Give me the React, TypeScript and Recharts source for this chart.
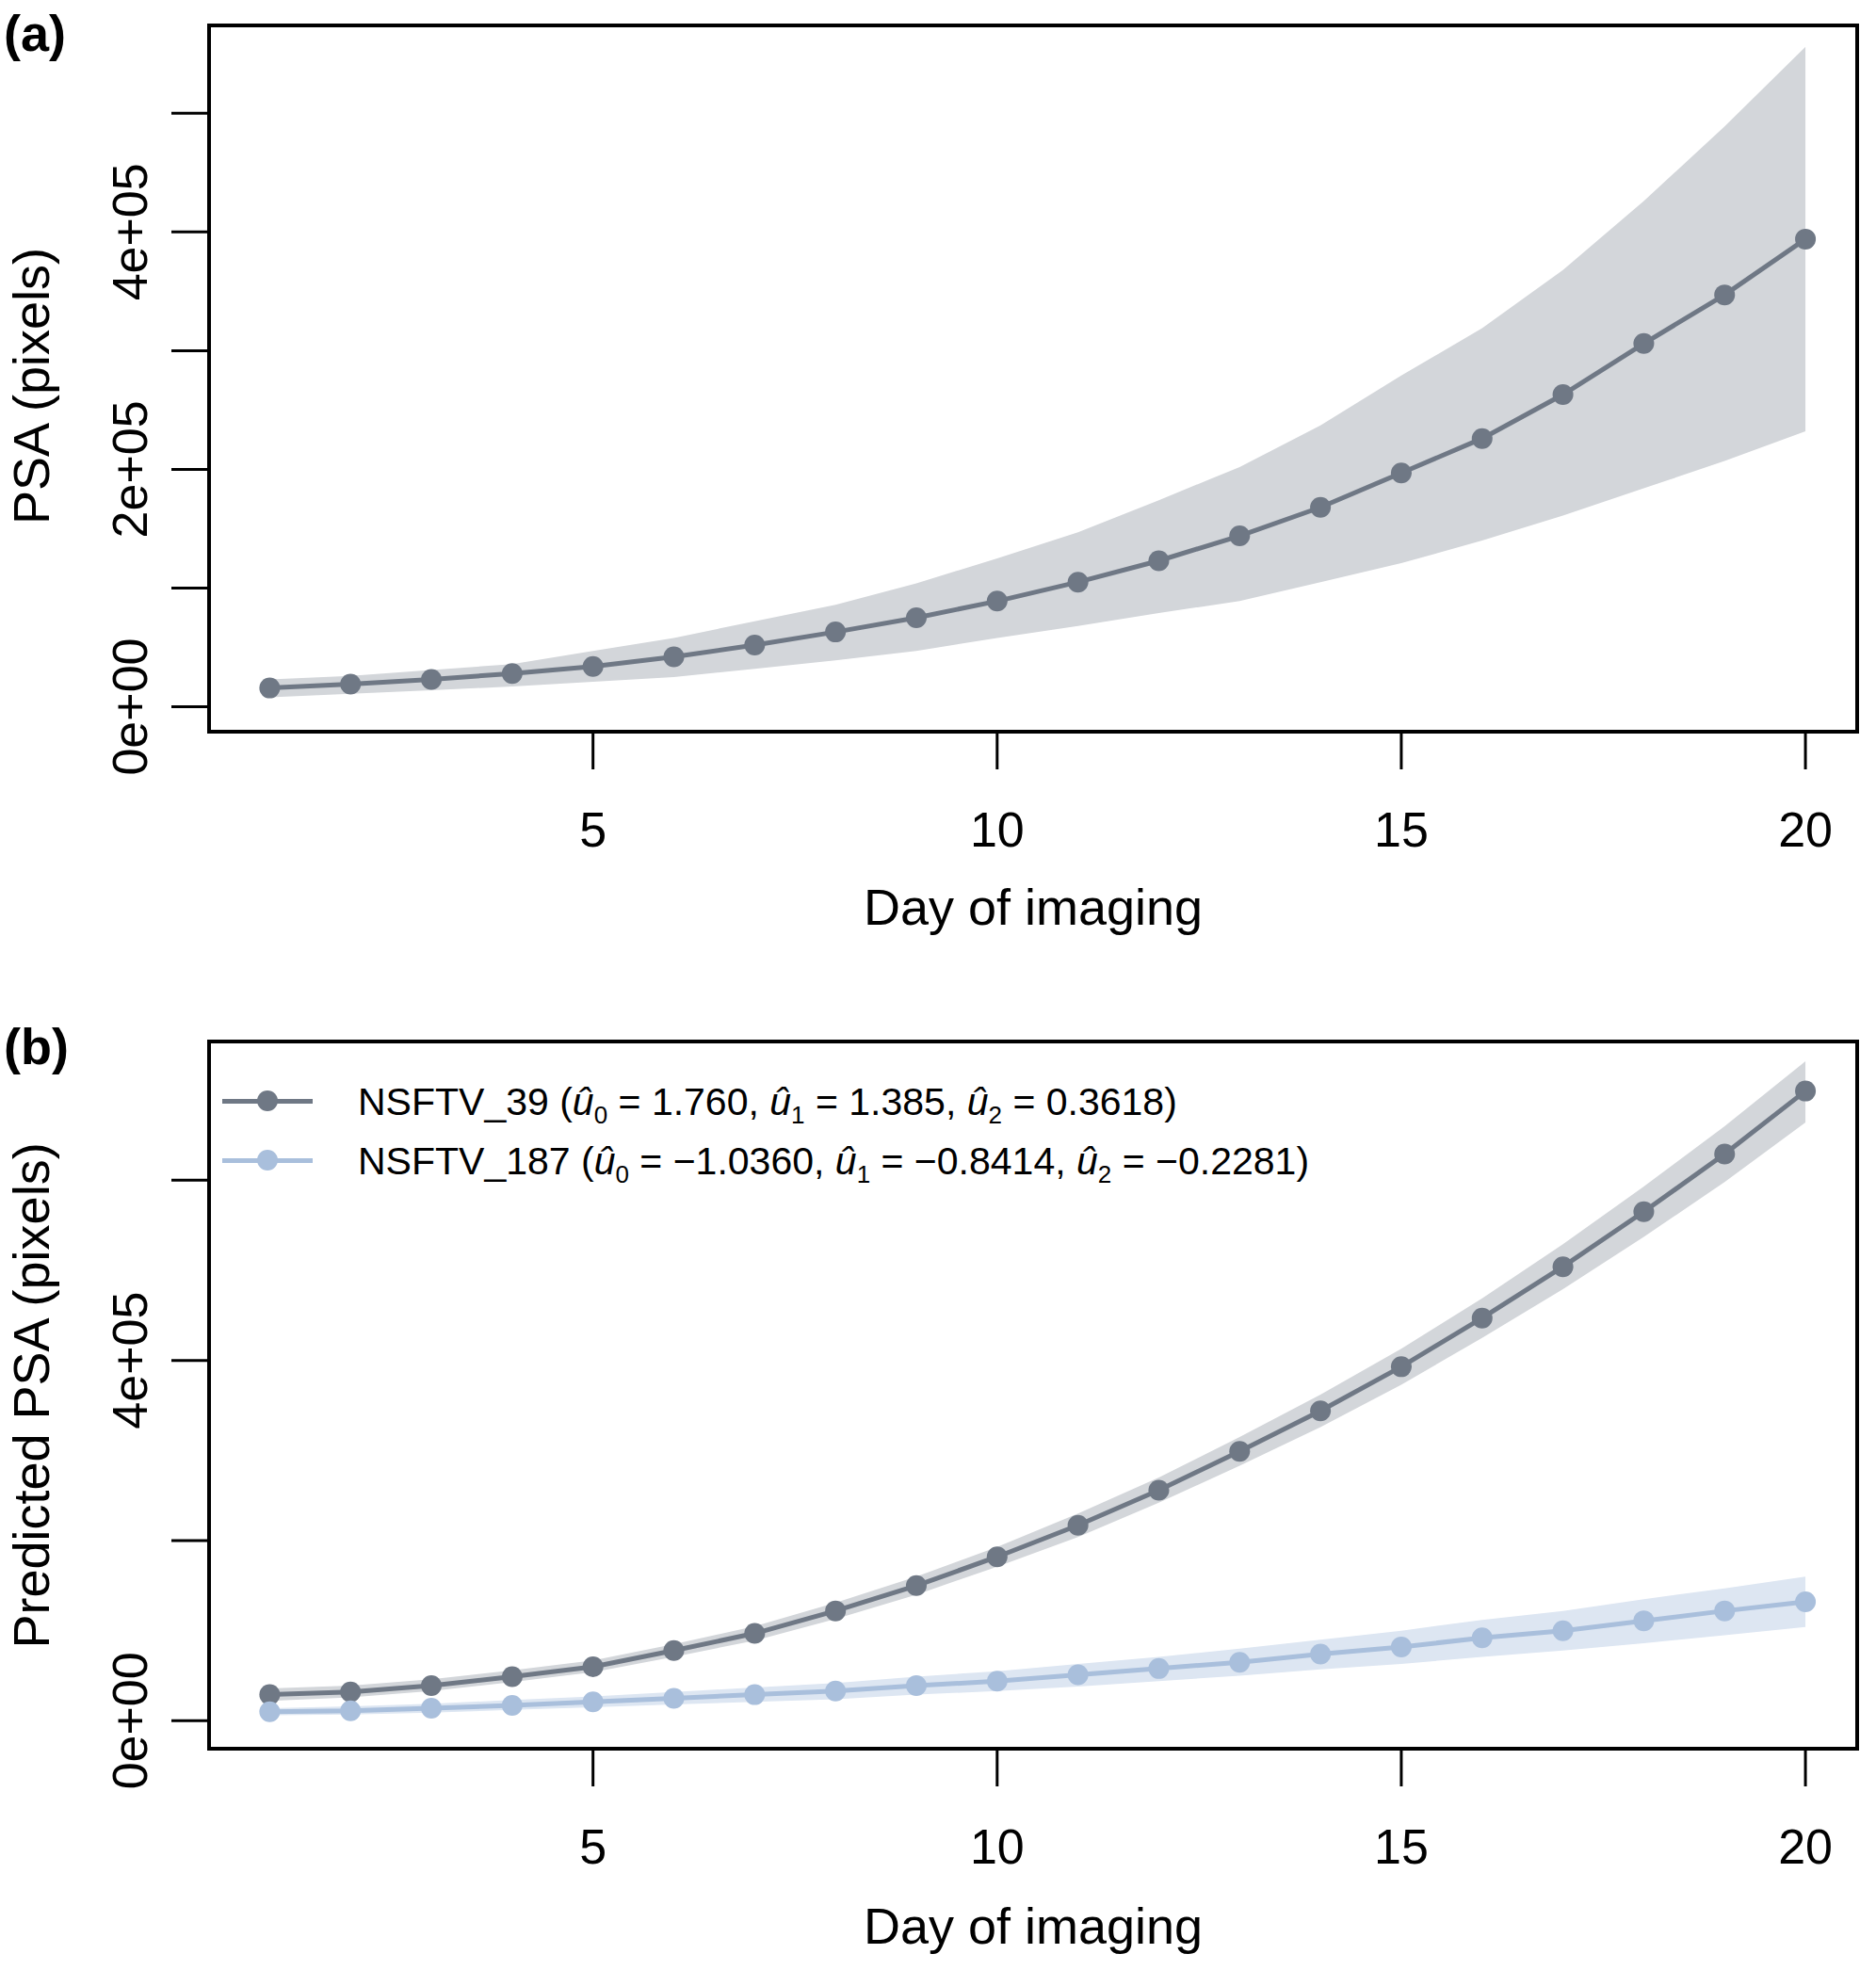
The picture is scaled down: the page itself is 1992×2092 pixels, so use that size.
import React from 'react';
import { ComposedChart, Line, Area, XAxis, YAxis, ReferenceArea } from 'recharts';

// values in units of 1e5 pixels
const DAYS = [1, 2, 3, 4, 5, 6, 7, 8, 9, 10, 11, 12, 13, 14, 15, 16, 17, 18, 19, 20];
const A_MEAN = [0.158, 0.19, 0.23, 0.28, 0.34, 0.42, 0.52, 0.63, 0.75, 0.89, 1.05, 1.23, 1.44, 1.68, 1.97, 2.26, 2.63, 3.06, 3.47, 3.94];
const A_HI = [0.23, 0.26, 0.31, 0.36, 0.47, 0.58, 0.72, 0.86, 1.04, 1.25, 1.47, 1.74, 2.02, 2.37, 2.79, 3.19, 3.68, 4.26, 4.89, 5.56];
const A_LO = [0.08, 0.11, 0.14, 0.17, 0.21, 0.25, 0.32, 0.39, 0.47, 0.58, 0.68, 0.79, 0.89, 1.05, 1.21, 1.4, 1.61, 1.84, 2.07, 2.32];

const N39_MEAN = [0.29, 0.32, 0.39, 0.49, 0.6, 0.78, 0.97, 1.22, 1.5, 1.82, 2.17, 2.56, 2.99, 3.44, 3.93, 4.47, 5.04, 5.65, 6.29, 6.99];
const N39_LO = [0.22, 0.26, 0.33, 0.43, 0.54, 0.71, 0.89, 1.13, 1.4, 1.71, 2.04, 2.42, 2.83, 3.26, 3.73, 4.25, 4.79, 5.37, 5.98, 6.64];
const N39_HI = [0.36, 0.39, 0.46, 0.56, 0.67, 0.85, 1.05, 1.31, 1.6, 1.93, 2.3, 2.7, 3.15, 3.62, 4.13, 4.69, 5.29, 5.93, 6.6, 7.32];
const N187_MEAN = [0.1, 0.11, 0.14, 0.17, 0.21, 0.25, 0.29, 0.33, 0.39, 0.44, 0.51, 0.58, 0.65, 0.74, 0.82, 0.92, 1.0, 1.11, 1.22, 1.32];
const N187_LO = [0.06, 0.07, 0.09, 0.12, 0.15, 0.18, 0.21, 0.24, 0.29, 0.33, 0.38, 0.44, 0.5, 0.57, 0.63, 0.71, 0.78, 0.86, 0.95, 1.04];
const N187_HI = [0.14, 0.16, 0.19, 0.23, 0.27, 0.32, 0.37, 0.42, 0.49, 0.55, 0.63, 0.71, 0.8, 0.9, 1.0, 1.12, 1.22, 1.35, 1.47, 1.6];

const X_TICKS = [5, 10, 15, 20];
const A_Y_TICKS = [0, 1, 2, 3, 4, 5];
const B_Y_TICKS = [0, 2, 4, 6];
const Y_LABELS: Record<number, string> = { 0: '0e+00', 2: '2e+05', 4: '4e+05' };
const B_Y_LABELS: Record<number, string> = { 0: '0e+00', 4: '4e+05' };

const DARK = '#6f7885';
const DARK_BAND = '#d3d6da';
const LIGHT = '#a9bfdc';
const LIGHT_BAND = '#dde6f2';
const FONT = 'Liberation Sans, Arial, sans-serif';
const W = 1992;
const H = 1046;

const dataA = DAYS.map((d, i) => ({ day: d, mean: A_MEAN[i], band: [A_LO[i], A_HI[i]] }));
const dataB = DAYS.map((d, i) => ({
  day: d,
  m39: N39_MEAN[i],
  b39: [N39_LO[i], N39_HI[i]],
  m187: N187_MEAN[i],
  b187: [N187_LO[i], N187_HI[i]],
}));

const yTick = (labels: Record<number, string>) => (p: any) => (
  <text
    transform={`translate(${p.x - 24},${p.y}) rotate(-90)`}
    textAnchor="middle"
    fontSize={52}
    fontFamily={FONT}
    fill="#000"
  >
    {labels[p.payload.value] ?? ''}
  </text>
);

const xTick = (p: any) => (
  <text x={p.x} y={p.y + 80} textAnchor="middle" fontSize={52} fontFamily={FONT} fill="#000">
    {p.payload.value}
  </text>
);

const axisStroke = { stroke: '#000', strokeWidth: 3 };

function Hat({ sub }: { sub: string }) {
  return (
    <span style={{ fontStyle: 'italic' }}>
      u{'\u0302'}
      <sub style={{ fontSize: 26, fontStyle: 'normal' }}>{sub}</sub>
    </span>
  );
}

export default function App() {
  const dot = (c: string) => ({ r: 11, fill: c, stroke: c, strokeWidth: 0 });
  return (
    <div style={{ position: 'absolute', left: 0, top: 0, width: W, height: 2092, background: '#fff', fontFamily: FONT }}>
      <div style={{ position: 'absolute', left: 0, top: 0 }}>
        <ComposedChart width={W} height={H} data={dataA} margin={{ top: 27, right: 20, left: 0, bottom: 0 }}>
          <XAxis dataKey="day" type="number" domain={[0.25, 20.64]} ticks={X_TICKS} height={269}
            tickSize={40} tickLine={axisStroke} axisLine={false} tick={xTick} />
          <YAxis type="number" domain={[-0.21, 5.74]} ticks={A_Y_TICKS} width={222}
            tickSize={40} tickLine={axisStroke} axisLine={false} tick={yTick(Y_LABELS)} />
          <Area dataKey="band" stroke="none" fill={DARK_BAND} fillOpacity={1} isAnimationActive={false} />
          <Line dataKey="mean" stroke={DARK} strokeWidth={5} dot={dot(DARK)} isAnimationActive={false} />
          <ReferenceArea x1={0.25} x2={20.64} y1={-0.21} y2={5.74} fill="none" stroke="#000" strokeWidth={4} />
        </ComposedChart>
      </div>
      <div style={{ position: 'absolute', left: 0, top: H }}>
        <ComposedChart width={W} height={H} data={dataB} margin={{ top: 60, right: 20, left: 0, bottom: 0 }}>
          <XAxis dataKey="day" type="number" domain={[0.25, 20.64]} ticks={X_TICKS} height={235}
            tickSize={40} tickLine={axisStroke} axisLine={false} tick={xTick} />
          <YAxis type="number" domain={[-0.31, 7.54]} ticks={B_Y_TICKS} width={222}
            tickSize={40} tickLine={axisStroke} axisLine={false} tick={yTick(B_Y_LABELS)} />
          <Area dataKey="b39" stroke="none" fill={DARK_BAND} fillOpacity={1} isAnimationActive={false} />
          <Area dataKey="b187" stroke="none" fill={LIGHT_BAND} fillOpacity={1} isAnimationActive={false} />
          <Line dataKey="m39" stroke={DARK} strokeWidth={5} dot={dot(DARK)} isAnimationActive={false} />
          <Line dataKey="m187" stroke={LIGHT} strokeWidth={5} dot={dot(LIGHT)} isAnimationActive={false} />
          <ReferenceArea x1={0.25} x2={20.64} y1={-0.31} y2={7.54} fill="none" stroke="#000" strokeWidth={4} />
        </ComposedChart>
      </div>

      {/* panel labels and titles */}
      <div style={{ position: 'absolute', left: 4, top: 4, fontSize: 54, fontWeight: 'bold' }}>(a)</div>
      <div style={{ position: 'absolute', left: 4, top: 1080, fontSize: 54, fontWeight: 'bold' }}>(b)</div>
      <div style={{ position: 'absolute', left: 222, width: 1750, top: 932, textAlign: 'center', fontSize: 54 }}>Day of imaging</div>
      <div style={{ position: 'absolute', left: 222, width: 1750, top: 2014, textAlign: 'center', fontSize: 54 }}>Day of imaging</div>
      <div style={{ position: 'absolute', left: 33, top: 410, width: 0, height: 0 }}>
        <div style={{ position: 'absolute', transform: 'translate(-50%,-50%) rotate(-90deg)', whiteSpace: 'nowrap', fontSize: 54 }}>PSA (pixels)</div>
      </div>
      <div style={{ position: 'absolute', left: 33, top: 1482, width: 0, height: 0 }}>
        <div style={{ position: 'absolute', transform: 'translate(-50%,-50%) rotate(-90deg)', whiteSpace: 'nowrap', fontSize: 54 }}>Predicted PSA (pixels)</div>
      </div>

      {/* legend */}
      {[
        { c: DARK, y: 1169, name: 'NSFTV_39', v: ['1.760', '1.385', '0.3618'] },
        { c: LIGHT, y: 1232, name: 'NSFTV_187', v: ['\u22121.0360', '\u22120.8414', '\u22120.2281'] },
      ].map((e) => (
        <div key={e.name}>
          <div style={{ position: 'absolute', left: 236, top: e.y - 2.5, width: 96, height: 5, background: e.c }} />
          <div style={{ position: 'absolute', left: 273, top: e.y - 11, width: 22, height: 22, borderRadius: 11, background: e.c }} />
          <div style={{ position: 'absolute', left: 380, top: e.y - 24, fontSize: 41, whiteSpace: 'nowrap', lineHeight: '50px' }}>
            {e.name} (<Hat sub="0" /> = {e.v[0]}, <Hat sub="1" /> = {e.v[1]}, <Hat sub="2" /> = {e.v[2]})
          </div>
        </div>
      ))}
    </div>
  );
}
